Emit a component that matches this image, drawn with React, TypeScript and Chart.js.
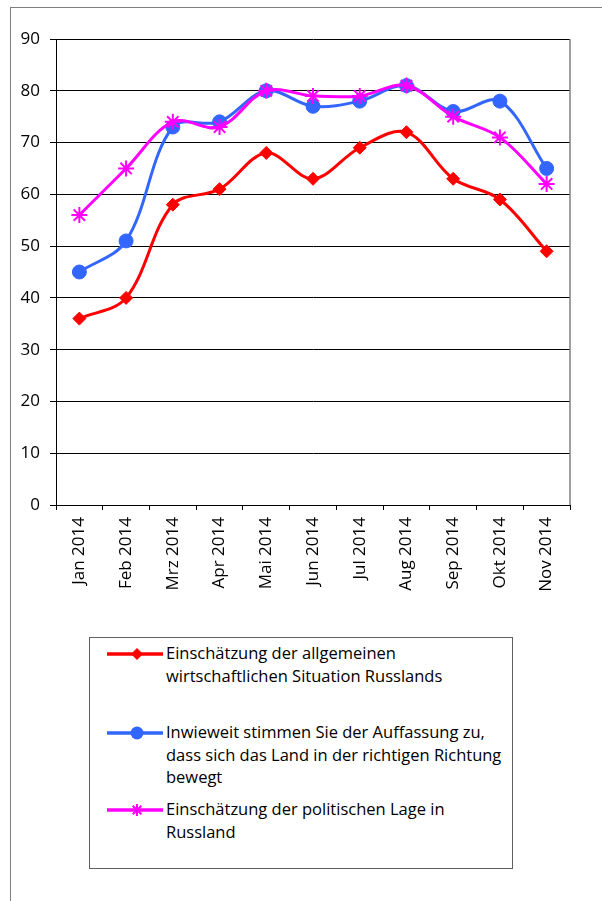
import React, { useEffect, useRef } from "react";
import { Chart, registerables } from "chart.js";

Chart.register(...registerables);

const categories = [
  "Jan 2014", "Feb 2014", "Mrz 2014", "Apr 2014", "Mai 2014", "Jun 2014",
  "Jul 2014", "Aug 2014", "Sep 2014", "Okt 2014", "Nov 2014",
];
const wirtschaft = [36, 40, 58, 61, 68, 63, 69, 72, 63, 59, 49];
const richtung = [45, 51, 73, 74, 80, 77, 78, 81, 76, 78, 65];
const politik = [56, 65, 74, 73, 80, 79, 79, 81, 75, 71, 62];
const yMin = 0;
const yMax = 90;
const yStep = 10;

const labelWirtschaft = ["Einschätzung der allgemeinen", "wirtschaftlichen Situation Russlands"];
const labelRichtung = [
  "Inwieweit stimmen Sie der Auffassung zu,",
  "dass sich das Land in der richtigen Richtung",
  "bewegt",
];
const labelPolitik = ["Einschätzung der politischen Lage in", "Russland"];

const RED = "#FF0000";
const BLUE = "#3366FF";
const MAGENTA = "#FF00FF";
const FONT = "'Open Sans', 'DejaVu Sans', sans-serif";

const plotFrame = {
  id: "plotFrame",
  beforeDatasetsDraw(chart: any) {
    const { ctx, chartArea: a } = chart;
    ctx.save();
    ctx.strokeStyle = "#808080";
    ctx.lineWidth = 1.5;
    ctx.beginPath();
    ctx.moveTo(a.right, a.top);
    ctx.lineTo(a.right, a.bottom);
    ctx.stroke();
    ctx.restore();
  },
};

function Marker({ kind, color }: { kind: string; color: string }) {
  const cx = 30;
  const cy = 8;
  let m: any = null;
  if (kind === "diamond") {
    m = <polygon points={`${cx},${cy - 6} ${cx + 6},${cy} ${cx},${cy + 6} ${cx - 6},${cy}`} fill={color} />;
  } else if (kind === "circle") {
    m = <circle cx={cx} cy={cy} r={6.5} fill={color} />;
  } else {
    const r = 6;
    const d = r * 0.72;
    m = (
      <g stroke={color} strokeWidth={2}>
        <line x1={cx} y1={cy - r} x2={cx} y2={cy + r} />
        <line x1={cx - d} y1={cy - d} x2={cx + d} y2={cy + d} />
        <line x1={cx - d} y1={cy + d} x2={cx + d} y2={cy - d} />
      </g>
    );
  }
  return (
    <svg width={60} height={16} style={{ position: "absolute", left: 0, top: 0 }}>
      <line x1={0} y1={cy} x2={56} y2={cy} stroke={color} strokeWidth={3.5} />
      {m}
    </svg>
  );
}

function LegendEntry({ top, lines, kind, color }: { top: number; lines: string[]; kind: string; color: string }) {
  return (
    <div style={{ position: "absolute", left: 17, top }}>
      <div style={{ position: "absolute", left: 0, top: 0 }}>
        <Marker kind={kind} color={color} />
      </div>
      <div
        style={{
          position: "absolute",
          left: 59,
          top: -4,
          width: 360,
          fontFamily: FONT,
          fontSize: 16.5,
          lineHeight: "22.5px",
          color: "#000",
          whiteSpace: "nowrap",
        }}
      >
        {lines.map((l, i) => (
          <div key={i}>{l}</div>
        ))}
      </div>
    </div>
  );
}

export default function App() {
  const ref = useRef<HTMLCanvasElement | null>(null);

  useEffect(() => {
    if (!ref.current) return;
    const ds = (label: string, data: number[], color: string, style: string, radius: number) => ({
      label,
      data,
      borderColor: color,
      backgroundColor: color,
      borderWidth: 3,
      pointStyle: style,
      pointRadius: radius,
      pointBorderWidth: style === "star" ? 2 : 1,
      pointBorderColor: color,
      pointBackgroundColor: color,
      tension: 0.35,
      fill: false,
      clip: false,
    });
    const chart = new Chart(ref.current, {
      type: "line",
      data: {
        labels: categories,
        datasets: [
          ds(labelPolitik.join(" "), politik, MAGENTA, "star", 8),
          ds(labelRichtung.join(" "), richtung, BLUE, "circle", 7),
          ds(labelWirtschaft.join(" "), wirtschaft, RED, "rectRot", 6.5),
        ],
      },
      options: {
        responsive: false,
        animation: false,
        layout: { padding: { left: 0, top: 39, right: 32, bottom: 0 } },
        plugins: { legend: { display: false }, tooltip: { enabled: false } },
        scales: {
          x: {
            type: "category",
            offset: true,
            grid: {
              offset: true,
              drawOnChartArea: false,
              drawTicks: true,
              tickLength: 5,
              color: "#000",
            },
            border: { display: true, color: "#000", width: 1 },
            ticks: {
              minRotation: 90,
              maxRotation: 90,
              autoSkip: false,
              padding: 7,
              color: "#000",
              font: { family: FONT, size: 17 },
            },
            afterFit(scale: any) {
              scale.height = 115;
            },
          },
          y: {
            min: yMin,
            max: yMax,
            ticks: {
              stepSize: yStep,
              padding: 10,
              color: "#000",
              font: { family: FONT, size: 17 },
            },
            grid: { color: "#000", lineWidth: 1, drawTicks: true, tickLength: 6 },
            border: { display: true, color: "#000", width: 1 },
            afterFit(scale: any) {
              scale.width = 56;
            },
          },
        },
      },
      plugins: [plotFrame],
    } as any);
    return () => chart.destroy();
  }, []);

  return (
    <div style={{ position: "absolute", left: 0, top: 0, width: 602, height: 901, overflow: "hidden", background: "#fff" }}>
      <div
        style={{
          position: "absolute",
          left: 10,
          top: 7,
          width: 600,
          height: 900,
          borderLeft: "1px solid #7f7f7f",
          borderTop: "1px solid #7f7f7f",
        }}
      />
      <canvas ref={ref} width={602} height={620} style={{ position: "absolute", left: 0, top: 0 }} />
      <div
        style={{
          position: "absolute",
          left: 89,
          top: 637,
          width: 424,
          height: 232,
          border: "1px solid #606060",
          boxSizing: "border-box",
        }}
      >
        <LegendEntry top={8} lines={labelWirtschaft} kind="diamond" color={RED} />
        <LegendEntry top={87} lines={labelRichtung} kind="circle" color={BLUE} />
        <LegendEntry top={164} lines={labelPolitik} kind="star" color={MAGENTA} />
      </div>
    </div>
  );
}
